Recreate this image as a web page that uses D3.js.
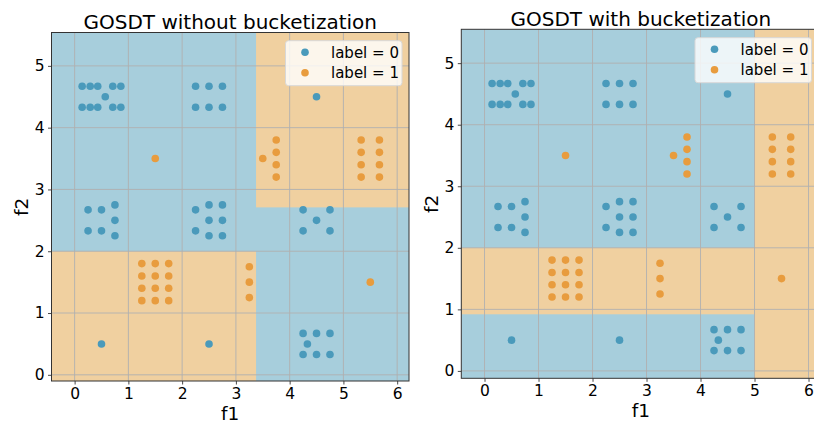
<!DOCTYPE html>
<html>
<head>
<meta charset="utf-8">
<script src="https://cdn.jsdelivr.net/npm/d3@7"></script>
<style>
  body { margin: 0; background: #fff; }
  svg text { font-family: "DejaVu Sans", sans-serif; fill: #000; }
</style>
</head>
<body>
<svg id="chart" width="814" height="425"></svg>
<script>
// points with label = 0
var f1Label0 = [0.14, 0.29, 0.43, 0.71, 0.86, 0.57, 0.14, 0.29, 0.43, 0.71, 0.86,
    2.25, 2.5, 2.75, 2.25, 2.5, 2.75,
    4.5,
    0.25, 0.5, 0.75, 0.75, 0.25, 0.5, 0.75,
    2.25, 2.25, 2.5, 2.5, 2.5, 2.75, 2.75, 2.75,
    4.25, 4.75, 4.5, 4.25, 4.75,
    0.5, 2.5,
    4.25, 4.5, 4.75, 4.33, 4.25, 4.5, 4.75];
var f2Label0 = [4.67, 4.67, 4.67, 4.67, 4.67, 4.5, 4.33, 4.33, 4.33, 4.33, 4.33,
    4.67, 4.67, 4.67, 4.33, 4.33, 4.33,
    4.5,
    2.67, 2.67, 2.75, 2.5, 2.33, 2.33, 2.25,
    2.67, 2.33, 2.75, 2.5, 2.25, 2.75, 2.5, 2.25,
    2.67, 2.67, 2.5, 2.33, 2.33,
    0.5, 0.5,
    0.67, 0.67, 0.67, 0.5, 0.33, 0.33, 0.33];
// points with label = 1
var f1Label1 = [1.5,
    3.5, 3.75, 3.75, 3.75, 3.75,
    5.33, 5.33, 5.33, 5.33, 5.67, 5.67, 5.67, 5.67,
    1.25, 1.5, 1.75, 1.25, 1.5, 1.75, 1.25, 1.5, 1.75, 1.25, 1.5, 1.75,
    3.25, 3.25, 3.25,
    5.5];
var f2Label1 = [3.5,
    3.5, 3.8, 3.6, 3.4, 3.2,
    3.8, 3.6, 3.4, 3.2, 3.8, 3.6, 3.4, 3.2,
    1.8, 1.8, 1.8, 1.6, 1.6, 1.6, 1.4, 1.4, 1.4, 1.2, 1.2, 1.2,
    1.75, 1.5, 1.25,
    1.5];

// predicted label = 1 regions [f1 from, f1 to, f2 from, f2 to]
var regionsNoBucket = [[-10, 3.375, -10, 2], [3.375, 10, 2.71, 10]];
var regionsBucket = [[-10, 5, 0.92, 2], [5, 10, -10, 10]];

var titles = ["GOSDT without bucketization", "GOSDT with bucketization"];
var legendLabels = ["label = 0", "label = 1"];
var xTicks = [0, 1, 2, 3, 4, 5, 6];
var yTicks = [0, 1, 2, 3, 4, 5];

var fillColors = ["#a7cedc", "#f0d0a0"];
var pointColors = ["#4a9abb", "#e89c3e"];

var svg = d3.select("#chart");

var panels = [
    { left: 51.5, right: 409, top: 32.5, bottom: 381, xDom: [-0.43, 6.22], yDom: [-0.1, 5.54],
      regions: regionsNoBucket, title: titles[0], titleY: 28.5, xLabelY: 420, yLabelX: 28, legend: [285.5, 40.7, 116.5, 45] },
    { left: 461.3, right: 820.4, top: 29.3, bottom: 378.3, xDom: [-0.43, 6.22], yDom: [-0.12, 5.55],
      regions: regionsBucket, title: titles[1], titleY: 25.5, xLabelY: 417, yLabelX: 438, legend: [695, 37.7, 116.5, 45] }
];

panels.forEach(function (p, i) {
    var x = d3.scaleLinear().domain(p.xDom).range([p.left, p.right]);
    var y = d3.scaleLinear().domain(p.yDom).range([p.bottom, p.top]);
    var w = p.right - p.left, h = p.bottom - p.top;

    svg.append("clipPath").attr("id", "clip" + i)
        .append("rect").attr("x", p.left).attr("y", p.top).attr("width", w).attr("height", h);

    var g = svg.append("g");
    var plot = g.append("g").attr("clip-path", "url(#clip" + i + ")");

    // background = label 0, then label 1 regions
    plot.append("rect").attr("x", p.left).attr("y", p.top).attr("width", w).attr("height", h)
        .attr("fill", fillColors[0]);
    plot.selectAll(".reg").data(p.regions).enter().append("rect")
        .attr("x", function (d) { return x(d[0]); })
        .attr("width", function (d) { return x(d[1]) - x(d[0]); })
        .attr("y", function (d) { return y(d[3]); })
        .attr("height", function (d) { return y(d[2]) - y(d[3]); })
        .attr("fill", fillColors[1]);

    // grid
    plot.selectAll(".gx").data(xTicks).enter().append("line")
        .attr("x1", function (d) { return x(d); }).attr("x2", function (d) { return x(d); })
        .attr("y1", p.top).attr("y2", p.bottom)
        .attr("stroke", "#b0b0b0").attr("stroke-width", 0.9);
    plot.selectAll(".gy").data(yTicks).enter().append("line")
        .attr("y1", function (d) { return y(d); }).attr("y2", function (d) { return y(d); })
        .attr("x1", p.left).attr("x2", p.right)
        .attr("stroke", "#b0b0b0").attr("stroke-width", 0.9);

    // points
    var pts = [];
    f1Label0.forEach(function (v, k) { pts.push([v, f2Label0[k], 0]); });
    f1Label1.forEach(function (v, k) { pts.push([v, f2Label1[k], 1]); });
    plot.selectAll(".pt").data(pts).enter().append("circle")
        .attr("cx", function (d) { return x(d[0]); })
        .attr("cy", function (d) { return y(d[1]); })
        .attr("r", 3.8)
        .attr("fill", function (d) { return pointColors[d[2]]; });

    // axes
    var xAxis = g.append("g").attr("transform", "translate(0," + p.bottom + ")")
        .call(d3.axisBottom(x).tickValues(xTicks).tickFormat(d3.format("d")).tickSize(3.5).tickPadding(3.5));
    var yAxis = g.append("g").attr("transform", "translate(" + p.left + ",0)")
        .call(d3.axisLeft(y).tickValues(yTicks).tickFormat(d3.format("d")).tickSize(3.5).tickPadding(3.5));
    [xAxis, yAxis].forEach(function (a) {
        a.select(".domain").remove();
        a.selectAll("line").attr("stroke", "#333").attr("stroke-width", 0.9);
        a.selectAll("text").attr("font-size", 15.5).attr("font-family", "DejaVu Sans");
    });

    // frame
    g.append("rect").attr("x", p.left).attr("y", p.top).attr("width", w).attr("height", h)
        .attr("fill", "none").attr("stroke", "#333").attr("stroke-width", 1);

    // labels
    g.append("text").attr("x", (p.left + p.right) / 2).attr("y", p.titleY)
        .attr("text-anchor", "middle").attr("font-size", 20).text(p.title);
    g.append("text").attr("x", (p.left + p.right) / 2).attr("y", p.xLabelY)
        .attr("text-anchor", "middle").attr("font-size", 18.5).text("f1");
    g.append("text").attr("transform", "translate(" + p.yLabelX + "," + ((p.top + p.bottom) / 2) + ") rotate(-90)")
        .attr("text-anchor", "middle").attr("font-size", 18.5).text("f2");

    // legend
    var L = p.legend;
    var lg = g.append("g");
    lg.append("rect").attr("x", L[0]).attr("y", L[1]).attr("width", L[2]).attr("height", L[3])
        .attr("rx", 3).attr("fill", "#fff").attr("fill-opacity", 0.8)
        .attr("stroke", "#d8d8d8").attr("stroke-width", 1);
    legendLabels.forEach(function (t, k) {
        var cy = L[1] + 11.5 + k * 20.5;
        lg.append("circle").attr("cx", L[0] + 19.5).attr("cy", cy).attr("r", 3.8).attr("fill", pointColors[k]);
        lg.append("text").attr("x", L[0] + 45.5).attr("y", cy + 5.5).attr("font-size", 15).text(t);
    });
});
</script>
</body>
</html>
